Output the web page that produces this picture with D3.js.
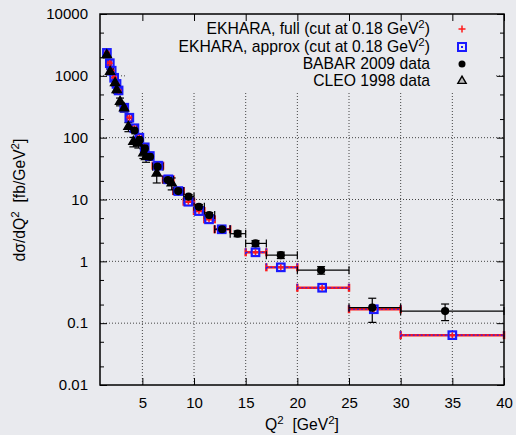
<!DOCTYPE html>
<html>
<head>
<meta charset="utf-8">
<script src="https://cdn.jsdelivr.net/npm/d3@7/dist/d3.min.js"></script>
<style>
  html, body { margin: 0; padding: 0; background: #e9eaee; }
  svg { display: block; }
  text { font-family: "Liberation Sans", Arial, sans-serif; fill: #000; }
</style>
</head>
<body>
<svg id="chart" width="516" height="435"></svg>
<script>
// ---- axis ticks ----
const xTicks = [5, 10, 15, 20, 25, 30, 35, 40];
const yTicks = [0.01, 0.1, 1, 10, 100, 1000, 10000];
const yTickLabels = ["0.01", "0.1", "1", "10", "100", "1000", "10000"];

// ---- EKHARA simulation (full and approx give the same values) ----
const ekQ   = [1.57, 1.85, 2.03, 2.27, 2.50, 2.70, 3.25, 3.74, 4.23, 4.71, 5.23, 5.72, 6.52, 7.51, 8.48, 9.45, 10.48, 11.45, 12.68, 15.95, 18.40, 22.40, 27.40, 35.00];
const ekLo  = [1.45, 1.70, 1.95, 2.15, 2.40, 2.60, 3.0, 3.5, 4.0, 4.5, 5.0, 5.5, 6.0, 7.0, 8.0, 9.0, 10.0, 11.0, 12.0, 15.0, 17.0, 20.0, 25.0, 30.0];
const ekHi  = [1.70, 1.95, 2.15, 2.40, 2.60, 3.00, 3.5, 4.0, 4.5, 5.0, 5.5, 6.0, 7.0, 8.0, 9.0, 10.0, 11.0, 12.0, 13.5, 17.0, 20.0, 25.0, 30.0, 40.0];
const ekFull   = [2350, 1600, 1210, 930, 740, 580, 305, 210, 142, 99.8, 69.8, 50.5, 35.2, 21.2, 13.7, 9.2, 6.5, 4.78, 3.30, 1.40, 0.80, 0.374, 0.168, 0.064];
const ekApprox = [2350, 1600, 1210, 930, 740, 580, 305, 210, 142, 99.8, 69.8, 50.5, 35.2, 21.2, 13.7, 9.2, 6.5, 4.78, 3.30, 1.40, 0.80, 0.374, 0.168, 0.064];

// ---- BABAR 2009 ----
const babarQ   = [4.24, 4.74, 5.24, 5.74, 6.47, 7.47, 8.47, 9.47, 10.47, 11.47, 12.72, 14.22, 15.95, 18.40, 22.30, 27.25, 34.30];
const babarLo  = [4.0, 4.5, 5.0, 5.5, 6.0, 7.0, 8.0, 9.0, 10.0, 11.0, 12.0, 13.5, 15.0, 17.0, 20.0, 25.0, 30.0];
const babarHi  = [4.5, 5.0, 5.5, 6.0, 7.0, 8.0, 9.0, 10.0, 11.0, 12.0, 13.5, 15.0, 17.0, 20.0, 25.0, 30.0, 40.0];
const babarVal = [130, 92, 67, 49, 34, 20.6, 13.7, 11.1, 7.6, 5.6, 3.3, 2.8, 1.95, 1.26, 0.72, 0.178, 0.157];
const babarErr = [6, 5, 4, 3.5, 2.5, 1.6, 1.1, 0.9, 0.7, 0.55, 0.35, 0.3, 0.22, 0.15, 0.1, 0.075, 0.047];

// ---- CLEO 1998 ----
const cleoQ   = [1.56, 1.88, 2.36, 2.52, 2.84, 3.23, 3.65, 4.13, 4.61, 5.10, 5.36, 6.39, 7.84];
const cleoVal = [2170, 1170, 770, 590, 382, 300, 150, 86, 81, 56, 49, 26.5, 18.3];
const cleoErr = [220, 120, 80, 65, 55, 40, 25, 15, 13, 10, 9, 8, 4];

// ---- legend entries ----
const legendLabels = [
  ["EKHARA, full (cut at 0.18 GeV", "2", ")"],
  ["EKHARA, approx (cut at 0.18 GeV", "2", ")"],
  ["BABAR 2009 data"],
  ["CLEO 1998 data"]
];

const svg = d3.select("#chart");
const W = 516, H = 435;
const plot = { left: 100, right: 504, top: 14, bottom: 385 };
const bg = "#e9eaee";

svg.append("rect").attr("width", W).attr("height", H).attr("fill", bg);

const x = d3.scaleLinear().domain([0.9, 40]).range([plot.left, plot.right]);
const y = d3.scaleLog().domain([0.01, 10000]).range([plot.bottom, plot.top]);

// ---- grid (dotted) ----
const grid = svg.append("g").attr("stroke", "#444").attr("stroke-width", 1)
  .attr("stroke-dasharray", "1,2").attr("fill", "none");
xTicks.filter(t => t < 40).forEach(t => {
  grid.append("line").attr("x1", x(t)).attr("x2", x(t))
    .attr("y1", plot.bottom).attr("y2", plot.top);
});
yTicks.filter(t => t > 0.01 && t < 10000).forEach(t => {
  grid.append("line").attr("x1", plot.left).attr("x2", plot.right)
    .attr("y1", y(t)).attr("y2", y(t));
});

// opaque key area
svg.append("rect").attr("x", 127).attr("y", plot.top + 1)
  .attr("width", 368).attr("height", 78).attr("fill", bg);

// ---- axes with inward ticks ----
const fmtY = (d) => yTickLabels[yTicks.indexOf(d)];
const minorY = [];
for (let e = -2; e < 4; e++) [2, 5].forEach(m => minorY.push(m * Math.pow(10, e)));

const axL = svg.append("g").attr("transform", `translate(${plot.left},0)`)
  .call(d3.axisLeft(y).tickValues(yTicks).tickFormat(fmtY).tickSize(-7).tickPadding(12));
const axR = svg.append("g").attr("transform", `translate(${plot.right},0)`)
  .call(d3.axisRight(y).tickValues(yTicks).tickFormat("").tickSize(-7));
const axLm = svg.append("g").attr("transform", `translate(${plot.left},0)`)
  .call(d3.axisLeft(y).tickValues(minorY).tickFormat("").tickSize(-4));
const axRm = svg.append("g").attr("transform", `translate(${plot.right},0)`)
  .call(d3.axisRight(y).tickValues(minorY).tickFormat("").tickSize(-4));
const axB = svg.append("g").attr("transform", `translate(0,${plot.bottom})`)
  .call(d3.axisBottom(x).tickValues(xTicks).tickFormat(d3.format("d")).tickSize(-7).tickPadding(12));
const axT = svg.append("g").attr("transform", `translate(0,${plot.top})`)
  .call(d3.axisTop(x).tickValues(xTicks).tickFormat("").tickSize(-7));
[axL, axR, axLm, axRm, axB, axT].forEach(g => {
  g.select(".domain").remove();
  g.selectAll(".tick line").attr("stroke", "#000").attr("stroke-width", 1);
  g.selectAll("text").attr("font-size", 15).attr("fill", "#000")
    .attr("font-family", "Liberation Sans, Arial, sans-serif");
});

// ---- EKHARA x-error bars ----
function xBars(g, lo, hi, val, color, dash, width) {
  ekQ.forEach((q, i) => {
    const yy = y(val[i]);
    const bar = g.append("g").attr("stroke", color).attr("stroke-width", width).attr("fill", "none");
    if (dash) bar.attr("stroke-dasharray", dash);
    bar.append("line").attr("x1", x(lo[i])).attr("x2", x(hi[i])).attr("y1", yy).attr("y2", yy);
    bar.append("line").attr("x1", x(lo[i])).attr("x2", x(lo[i])).attr("y1", yy - 4).attr("y2", yy + 4).attr("stroke-dasharray", null);
    bar.append("line").attr("x1", x(hi[i])).attr("x2", x(hi[i])).attr("y1", yy - 4).attr("y2", yy + 4).attr("stroke-dasharray", null);
  });
}
const ekG = svg.append("g");
xBars(ekG, ekLo, ekHi, ekFull, "#ff1a1a", null, 2.5);
xBars(ekG, ekLo, ekHi, ekApprox, "#2020ff", "2,2", 1.2);

// ---- BABAR error bars and points ----
const bG = svg.append("g").attr("stroke", "#000").attr("stroke-width", 1.2).attr("fill", "none");
babarQ.forEach((q, i) => {
  const cx = x(q), cy = y(babarVal[i]);
  bG.append("line").attr("x1", x(babarLo[i])).attr("x2", x(babarHi[i])).attr("y1", cy).attr("y2", cy);
  bG.append("line").attr("x1", x(babarLo[i])).attr("x2", x(babarLo[i])).attr("y1", cy - 4).attr("y2", cy + 4);
  bG.append("line").attr("x1", x(babarHi[i])).attr("x2", x(babarHi[i])).attr("y1", cy - 4).attr("y2", cy + 4);
  const yt = y(babarVal[i] + babarErr[i]), yb = y(babarVal[i] - babarErr[i]);
  bG.append("line").attr("x1", cx).attr("x2", cx).attr("y1", yt).attr("y2", yb);
  bG.append("line").attr("x1", cx - 4).attr("x2", cx + 4).attr("y1", yt).attr("y2", yt);
  bG.append("line").attr("x1", cx - 4).attr("x2", cx + 4).attr("y1", yb).attr("y2", yb);
});

// ---- CLEO error bars and points ----
const cG = svg.append("g").attr("stroke", "#000").attr("stroke-width", 1.2).attr("fill", "none");
cleoQ.forEach((q, i) => {
  const cx = x(q);
  const yt = y(cleoVal[i] + cleoErr[i]), yb = y(cleoVal[i] - cleoErr[i]);
  cG.append("line").attr("x1", cx).attr("x2", cx).attr("y1", yt).attr("y2", yb);
  cG.append("line").attr("x1", cx - 4).attr("x2", cx + 4).attr("y1", yt).attr("y2", yt);
  cG.append("line").attr("x1", cx - 4).attr("x2", cx + 4).attr("y1", yb).attr("y2", yb);
});

// symbols
const tri = d3.symbol().type(d3.symbolTriangle);
function drawTriangle(g, cx, cy, size, fill) {
  g.append("path").attr("d", tri.size(size)()).attr("transform", `translate(${cx},${cy})`)
    .attr("fill", fill).attr("stroke", "#000").attr("stroke-width", 1.4);
}
function drawSquare(g, cx, cy, s) {
  g.append("rect").attr("x", cx - s / 2).attr("y", cy - s / 2).attr("width", s).attr("height", s)
    .attr("fill", "none").attr("stroke", "#1a1aff").attr("stroke-width", 2.2);
  g.append("rect").attr("x", cx - 1).attr("y", cy - 1).attr("width", 2).attr("height", 2).attr("fill", "#1a1aff");
}
function drawPlus(g, cx, cy, s) {
  g.append("path").attr("d", `M${cx - s},${cy}H${cx + s}M${cx},${cy - s}V${cy + s}`)
    .attr("stroke", "#ff1a1a").attr("stroke-width", 1.5).attr("fill", "none");
}

const symG = svg.append("g");
ekQ.forEach((q, i) => drawSquare(symG, x(q), y(ekApprox[i]), 7.5));
ekQ.forEach((q, i) => drawPlus(symG, x(q), y(ekFull[i]), 3));
cleoQ.forEach((q, i) => drawTriangle(symG, x(q), y(cleoVal[i]), 36, "#000"));
babarQ.forEach((q, i) => symG.append("circle").attr("cx", x(q)).attr("cy", y(babarVal[i])).attr("r", 4.1).attr("fill", "#000"));

// ---- frame ----
svg.append("rect").attr("x", plot.left).attr("y", plot.top)
  .attr("width", plot.right - plot.left).attr("height", plot.bottom - plot.top)
  .attr("fill", "none").attr("stroke", "#000").attr("stroke-width", 1.5);

// ---- legend ----
const legY = [29, 47, 64, 81];
const legTextX = 430, legSymX = 462;
const leg = svg.append("g");
legendLabels.forEach((parts, i) => {
  const t = leg.append("text").attr("x", legTextX).attr("y", legY[i] + 5)
    .attr("text-anchor", "end").attr("font-size", 15.7);
  t.append("tspan").text(parts[0]);
  if (parts.length > 1) {
    t.append("tspan").attr("dy", -6).attr("font-size", 11.5).text(parts[1]);
    t.append("tspan").attr("dy", 6).text(parts[2]);
  }
});
drawPlus(leg, legSymX, legY[0], 3.5);
leg.append("rect").attr("x", legSymX - 4).attr("y", legY[1] - 4).attr("width", 8).attr("height", 8)
  .attr("fill", "none").attr("stroke", "#1a1aff").attr("stroke-width", 2);
leg.append("rect").attr("x", legSymX - 1).attr("y", legY[1] - 1).attr("width", 2).attr("height", 2).attr("fill", "#1a1aff");
leg.append("circle").attr("cx", legSymX).attr("cy", legY[2]).attr("r", 3.5).attr("fill", "#000");
leg.append("path").attr("d", tri.size(30)()).attr("transform", `translate(${legSymX},${legY[3]})`)
  .attr("fill", "#bbb").attr("stroke", "#000").attr("stroke-width", 1.4);

// ---- axis titles ----
const xt = svg.append("text").attr("x", 302).attr("y", 430).attr("text-anchor", "middle")
  .attr("font-size", 15.7).attr("xml:space", "preserve");
xt.append("tspan").text("Q");
xt.append("tspan").attr("dy", -6).attr("font-size", 11.5).text("2");
xt.append("tspan").attr("dy", 6).text("  [GeV");
xt.append("tspan").attr("dy", -6).attr("font-size", 11.5).text("2");
xt.append("tspan").attr("dy", 6).text("]");

const yt = svg.append("text").attr("transform", "translate(25,200) rotate(-90)")
  .attr("text-anchor", "middle").attr("font-size", 15.7).attr("xml:space", "preserve");
yt.append("tspan").text("dσ/dQ");
yt.append("tspan").attr("dy", -6).attr("font-size", 11.5).text("2");
yt.append("tspan").attr("dy", 6).text("  [fb/GeV");
yt.append("tspan").attr("dy", -6).attr("font-size", 11.5).text("2");
yt.append("tspan").attr("dy", 6).text("]");
</script>
</body>
</html>
